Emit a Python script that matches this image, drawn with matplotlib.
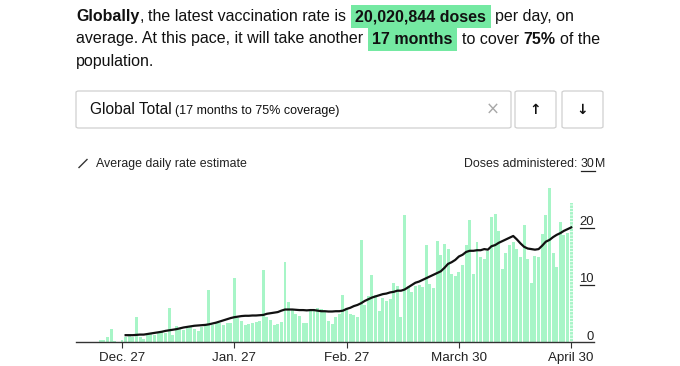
import numpy as np
import matplotlib
matplotlib.use("Agg")
import matplotlib.pyplot as plt
import matplotlib.dates as mdates
from matplotlib.patches import Rectangle, FancyBboxPatch
from matplotlib.lines import Line2D
import matplotlib.transforms as mtransforms

plt.rcParams['font.family'] = ['Liberation Sans', 'DejaVu Sans']
plt.rcParams['hatch.linewidth'] = 0.6

# ---------------- data ----------------
bar_start = '2020-12-20'
daily_doses = [
    0.0, 0.4, 0.3, 0.9, 2.2, 0.2, 0.0,            # Dec 20-26
    0.3, 0.8, 1.0, 0.9, 4.3, 0.9, 0.6,            # Dec 27 - Jan 2
    1.2, 1.4, 1.3, 1.5, 1.9, 1.6, 5.9,            # Jan 3-9
    1.3, 2.8, 2.4, 2.1, 2.5, 2.6, 2.3,            # Jan 10-16
    1.9, 2.6, 2.9, 9.1, 3.0, 3.3, 3.4,            # Jan 17-23
    3.0, 3.3, 3.4, 11.2, 4.2, 3.6, 3.0,           # Jan 24-30
    3.2, 3.3, 3.5, 3.7, 12.7, 4.4, 3.8,           # Jan 31 - Feb 6
    3.0, 3.2, 3.5, 14.0, 7.0, 5.8, 5.0,           # Feb 7-13
    4.6, 3.3, 3.4, 5.4, 5.6, 6.0, 5.8,            # Feb 14-20
    5.2, 3.6, 3.2, 4.3, 4.9, 8.2, 6.0,            # Feb 21-27
    5.0, 4.7, 4.4, 17.9, 6.5, 8.0, 11.8,          # Feb 28 - Mar 6
    8.3, 5.5, 7.8, 7.2, 7.6, 10.3, 9.8,           # Mar 7-13
    4.4, 22.3, 9.8, 8.7, 9.8, 10.0, 9.6,          # Mar 14-20
    17.0, 10.2, 9.4, 17.7, 15.2, 17.2, 16.4,      # Mar 21-27
    12.0, 11.5, 12.2, 13.5, 17.0, 21.4, 12.0,     # Mar 28 - Apr 3
    17.5, 15.0, 14.6, 16.0, 22.0, 22.4, 19.5,     # Apr 4-10
    12.8, 15.6, 17.1, 17.5, 16.3, 15.0, 20.6,     # Apr 11-17
    14.5, 10.3, 15.1, 15.0, 19.0, 22.3, 27.1,     # Apr 18-24
    15.6, 13.2, 21.1, 18.7, 19.2, 24.4, 25.2,     # Apr 25 - May 1
]
daily_doses = daily_doses[:132]

avg_start = '2020-12-28'
avg_rate = [
    1.2, 1.2, 1.2, 1.25, 1.3, 1.3, 1.4, 1.5, 1.6, 1.7,
    1.8, 1.95, 2.05, 2.15, 2.25, 2.4, 2.55, 2.65, 2.75, 2.85,
    2.9, 2.95, 3.0, 3.1, 3.25, 3.4, 3.6, 3.8, 4.0, 4.2,
    4.35, 4.45, 4.55, 4.6, 4.6, 4.65, 4.65, 4.7, 4.75, 4.95,
    5.05, 5.15, 5.25, 5.5, 5.7, 5.7, 5.7, 5.65, 5.6, 5.6,
    5.55, 5.6, 5.6, 5.5, 5.4, 5.4, 5.35, 5.35, 5.4, 5.4,
    5.5, 5.8, 6.0, 6.3, 6.5, 6.8, 7.2, 7.5, 7.8, 8.0,
    8.2, 8.4, 8.5, 8.7, 8.8, 9.0, 9.0, 9.2, 9.6, 10.0,
    10.4, 10.6, 10.9, 11.2, 11.5, 11.8, 12.1, 12.4, 13.0, 13.7,
    14.0, 14.4, 15.0, 15.3, 15.8, 16.0, 16.0, 16.1, 16.1, 16.3,
    16.2, 16.8, 17.0, 17.4, 17.7, 18.0, 18.3, 18.6, 18.0, 17.3,
    16.7, 16.4, 16.3, 16.2, 16.3, 16.9, 17.6, 17.9, 18.4, 18.8,
    19.1, 19.5, 19.8, 20.1,
]

tick_dates = ['2020-12-27', '2021-01-27', '2021-02-27', '2021-03-30', '2021-04-30']
tick_labels = ['Dec. 27', 'Jan. 27', 'Feb. 27', 'March 30', 'April 30']
y_ticks = [0, 10, 20]
y_tick_labels = ['0', '10', '20']

# ---------------- figure ----------------
W, H = 680, 366
fig = plt.figure(figsize=(W / 100, H / 100), dpi=100)
fig.patch.set_facecolor('white')
renderer = fig.canvas.get_renderer()

def fx(x):
    return x / W

def fy(y):
    return 1 - y / H

BAR_C = '#a7f5c7'
HL_C = '#74e9a2'
TXT = '#111111'

def text_width(s, size, weight='normal'):
    t = fig.text(0, 0, s, fontsize=size, fontweight=weight)
    w = t.get_window_extent(renderer).width
    t.remove()
    return w

# ---------------- header paragraph ----------------
HS = 11.5
SP = text_width('a a', HS) - text_width('aa', HS)
HP = 4.5

def draw_runs(x, base_y, parts):
    for s, weight, hl, gap in parts:
        x += gap
        t = fig.text(fx(x), fy(base_y), s, fontsize=HS, fontweight=weight,
                     color=TXT, ha='left', va='baseline', zorder=3)
        bb = t.get_window_extent(renderer)
        if hl:
            fig.patches.append(Rectangle((fx(bb.x0 - HP), fy(base_y + 7)),
                                         (bb.width + 2 * HP) / W, 23 / H,
                                         transform=fig.transFigure,
                                         facecolor=HL_C, edgecolor='none', zorder=1))
        x = bb.x1

draw_runs(76, 21, [
    ('Globally', 'bold', False, 0),
    (',', 'normal', False, 0),
    ('the latest vaccination rate is', 'normal', False, SP),
    ('20,020,844 doses', 'bold', True, SP + HP),
    ('per day, on', 'normal', False, SP + HP),
])
draw_runs(76, 43.5, [
    ('average. At this pace, it will take another', 'normal', False, 0),
    ('17 months', 'bold', True, SP + HP),
    ('to cover', 'normal', False, SP + HP),
    ('75%', 'bold', False, SP),
    ('of the', 'normal', False, SP),
])
draw_runs(76, 66, [('population.', 'normal', False, 0)])

# ---------------- selector box ----------------
def box(x0, y0, x1, y1):
    fig.patches.append(FancyBboxPatch((fx(x0), fy(y1)), (x1 - x0) / W, (y1 - y0) / H,
                                      boxstyle='round,pad=0,rounding_size=0.004',
                                      transform=fig.transFigure, facecolor='white',
                                      edgecolor='#d0d0d0', linewidth=0.9))

box(76, 91, 511, 128)
box(515, 91, 556, 128)
box(562, 91, 603, 128)
t1 = fig.text(fx(90), fy(114), 'Global Total', fontsize=11.2, color=TXT,
              ha='left', va='baseline')
bb = t1.get_window_extent(renderer)
fig.text(fx(bb.x1 + 3), fy(114), '(17 months to 75% coverage)', fontsize=9.0,
         color=TXT, ha='left', va='baseline')
fig.text(fx(493), fy(110), '\u00d7', fontsize=12, color='#a8a8a8', ha='center',
         va='center', family='DejaVu Sans')
fig.text(fx(535.5), fy(109.5), '\u2191', fontsize=10, color=TXT, ha='center',
         va='center', family='DejaVu Sans', fontweight='bold')
fig.text(fx(582.5), fy(109.5), '\u2193', fontsize=10, color=TXT, ha='center',
         va='center', family='DejaVu Sans', fontweight='bold')

# ---------------- legend row ----------------
LS = 8.9
fig.add_artist(Line2D([fx(79), fx(87)], [fy(167.5), fy(159.5)], color='#333333',
                      lw=1.0, transform=fig.transFigure))
fig.text(fx(96), fy(167), 'Average daily rate estimate', fontsize=LS,
         color='#222222', ha='left', va='baseline')
tm = fig.text(fx(605), fy(167), 'M', fontsize=LS, color='#222222',
              ha='right', va='baseline')
bm = tm.get_window_extent(renderer)
t30 = fig.text(fx(bm.x0), fy(167), '30', fontsize=LS, color='#222222',
               ha='right', va='baseline')
b30 = t30.get_window_extent(renderer)
fig.add_artist(Line2D([b30.x0 / W, b30.x1 / W], [fy(170.5), fy(170.5)],
                      color='#222222', lw=0.9, transform=fig.transFigure))
fig.text(fx(b30.x0), fy(167), 'Doses administered: ', fontsize=LS,
         color='#222222', ha='right', va='baseline')

# ---------------- chart ----------------
ax_left, ax_right, ax_bottom, ax_top = 76, 594, 342, 171
ax = fig.add_axes([fx(ax_left), fy(ax_bottom), (ax_right - ax_left) / W,
                   (ax_bottom - ax_top) / H])
ax.set_facecolor('none')

bar_dates = np.datetime64(bar_start) + np.arange(len(daily_doses))
avg_dates = np.datetime64(avg_start) + np.arange(len(avg_rate))

ax.bar(bar_dates[:-1], daily_doses[:-1], width=0.82, color=BAR_C,
       linewidth=0, zorder=1)
ax.bar(bar_dates[-1:], daily_doses[-1:], width=0.82, color=BAR_C,
       edgecolor='white', hatch='-----', linewidth=0, zorder=1)
ax.plot(avg_dates, avg_rate, color='#111111', lw=1.6, zorder=3,
        solid_joinstyle='round')

ref = np.datetime64('2020-12-27')
x_lo = mdates.date2num(ref) - 12.7
x_hi = mdates.date2num(ref) + 130.3
ax.set_xlim(x_lo, x_hi)
ax.set_ylim(0, 30)

for s in ['left', 'right', 'top']:
    ax.spines[s].set_visible(False)
ax.spines['bottom'].set_color('#333333')
ax.spines['bottom'].set_linewidth(1.0)
ax.set_yticks([])
ax.set_xticks([mdates.date2num(np.datetime64(d)) for d in tick_dates])
ax.set_xticklabels(tick_labels, fontsize=9.6, color='#222222')
ax.tick_params(axis='x', direction='out', length=4.5, width=0.8,
               color='#333333', pad=2.5)

# y labels on the right with underline markers
blend = mtransforms.blended_transform_factory(fig.transFigure, ax.transData)
for v, lab in zip(y_ticks, y_tick_labels):
    t = ax.text(fx(594), v, lab, fontsize=9.4, color='#222222',
                ha='right', va='bottom')
    off = -0.5 if v == 0 else 0.0
    t.set_transform(blend + mtransforms.ScaledTranslation(0, off / 72, fig.dpi_scale_trans))
    if v != 0:
        b = t.get_window_extent(renderer)
        ax.add_line(Line2D([b.x0 / W, b.x1 / W], [v, v], transform=blend,
                           color='#222222', lw=0.9, clip_on=False))

fig.savefig('out.png', dpi=100, facecolor='white')
